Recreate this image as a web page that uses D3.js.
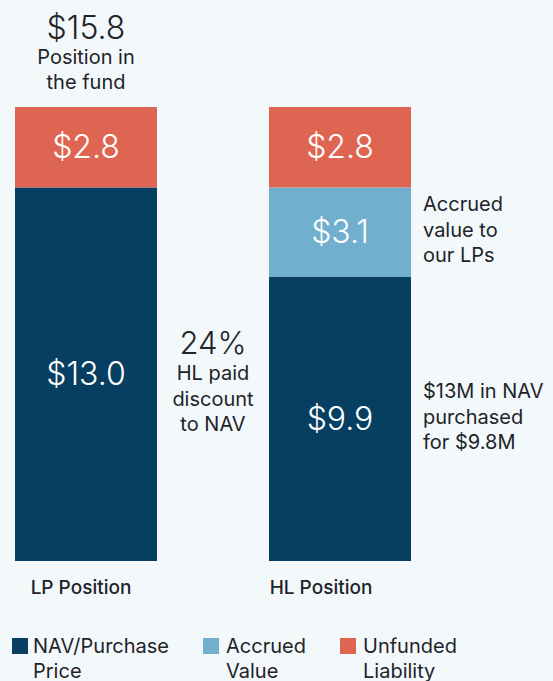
<!DOCTYPE html>
<html>
<head>
<meta charset="utf-8">
<script src="https://cdn.jsdelivr.net/npm/d3@7"></script>
<style>
  html, body { margin: 0; padding: 0; background: #f3f8fb; }
  svg { display: block; font-family: Inter, "Noto Sans", sans-serif; }
</style>
</head>
<body>
<script>
const categories = ["LP Position", "HL Position"]
const nav = [13.0, 9.9]
const accrued = [0, 3.1]
const unfunded = [2.8, 2.8]
const seriesNames = ["NAV/Purchase Price", "Accrued Value", "Unfunded Liability"]
const seriesKeys = ["nav", "accrued", "unfunded"]
const totalLabel = ["$15.8", "Position in", "the fund"]
const discountLabel = ["24%", "HL paid", "discount", "to NAV"]
const accruedNote = ["Accrued", "value to", "our LPs"]
const navNote = ["$13M in NAV", "purchased", "for $9.8M"]

const width = 553
const height = 681
const colors = { nav: "#073f63", accrued: "#70afce", unfunded: "#df6553" }
const ink = "#1e2428"

const rows = categories.map((c, i) => ({
    cat: c, nav: nav[i], accrued: accrued[i], unfunded: unfunded[i]
}))
const stacked = d3.stack().keys(seriesKeys)(rows)
const total = d3.max(rows, d => d.nav + d.accrued + d.unfunded)

const svg = d3.select("body")
    .append("svg")
    .attr("width", width)
    .attr("height", height)

const x = d3.scaleBand()
    .domain(categories)
    .range([15, 411])
    .paddingInner(112 / 254)
    .paddingOuter(0)
const y = d3.scaleLinear()
    .domain([0, total])
    .range([561, 107])

// bars
const layer = svg.selectAll("g.layer")
    .data(stacked)
    .join("g")
    .attr("class", "layer")
    .attr("fill", d => colors[d.key])

layer.selectAll("rect")
    .data(d => d.map(s => ({ key: d.key, s })))
    .join("rect")
    .attr("x", d => x(d.s.data.cat))
    .attr("width", x.bandwidth())
    .attr("y", d => y(d.s[1]))
    .attr("height", d => y(d.s[0]) - y(d.s[1]))

// values in segments
layer.selectAll("text")
    .data(d => d.map(s => ({ key: d.key, s })).filter(d => d.s[1] - d.s[0] > 0))
    .join("text")
    .attr("x", d => x(d.s.data.cat) + x.bandwidth() / 2)
    .attr("y", d => (y(d.s[0]) + y(d.s[1])) / 2 + 11)
    .attr("text-anchor", "middle")
    .attr("fill", "#fff")
    .attr("font-size", 32)
    .attr("font-weight", 300)
    .text(d => "$" + d3.format(".1f")(d.s[1] - d.s[0]))

// total label above LP bar
const lpCenter = x("LP Position") + x.bandwidth() / 2
const totalText = svg.append("text")
    .attr("text-anchor", "middle")
    .attr("fill", ink)
totalText.append("tspan")
    .attr("x", lpCenter).attr("y", y(total) - 68)
    .attr("font-size", 32).attr("font-weight", 300)
    .text(totalLabel[0])
totalLabel.slice(1).forEach((t, i) => {
    totalText.append("tspan")
        .attr("x", lpCenter).attr("y", y(total) - 43 + i * 25)
        .attr("font-size", 20).attr("font-weight", 400)
        .text(t)
})

// discount note between bars
const gapCenter = (x("LP Position") + x.bandwidth() + x("HL Position")) / 2
svg.append("text")
    .attr("x", gapCenter).attr("y", y(nav[0] / 2) - 20)
    .attr("text-anchor", "middle")
    .attr("fill", ink)
    .attr("font-size", 31).attr("font-weight", 300)
    .text(discountLabel[0])
const disc = svg.append("text")
    .attr("text-anchor", "middle")
    .attr("fill", ink)
discountLabel.slice(1).forEach((t, i) => {
    disc.append("tspan")
        .attr("x", gapCenter).attr("y", y(nav[0] / 2) + 6 + i * 25.5)
        .attr("font-size", 20).attr("font-weight", 400)
        .text(t)
})

// notes right of HL bar
const noteX = x("HL Position") + x.bandwidth() + 12
function note(lines, mid) {
    const t = svg.append("text").attr("fill", ink).attr("font-size", 20)
    lines.forEach((l, i) => {
        t.append("tspan")
            .attr("x", noteX)
            .attr("y", mid + 5 + (i - 1) * 25.5)
            .text(l)
    })
}
note(accruedNote, y(nav[1] + accrued[1] / 2))
note(navNote, y(nav[1] / 2))

// category labels
const labelShift = [-5, -19]
svg.selectAll("text.cat")
    .data(categories)
    .join("text")
    .attr("class", "cat")
    .attr("x", (d, i) => x(d) + x.bandwidth() / 2 + labelShift[i])
    .attr("y", y(0) + 33)
    .attr("text-anchor", "middle")
    .attr("fill", ink)
    .attr("font-size", 19)
    .attr("font-weight", 500)
    .text(d => d)

// legend
const legendX = [12, 203, 340]
const legend = svg.selectAll("g.legend")
    .data(seriesKeys)
    .join("g")
    .attr("class", "legend")
    .attr("transform", (d, i) => `translate(${legendX[i]},638)`)
legend.append("rect")
    .attr("width", 16).attr("height", 16)
    .attr("fill", d => colors[d])
legend.append("text")
    .attr("fill", ink)
    .attr("font-size", 20)
    .each(function (d, i) {
        const words = seriesNames[i].split(" ")
        words.forEach((w, j) => {
            d3.select(this).append("tspan")
                .attr("x", 21 + (i === 0 ? 0 : 2))
                .attr("y", 15 + j * 24.5)
                .text(w)
        })
    })
</script>
</body>
</html>
